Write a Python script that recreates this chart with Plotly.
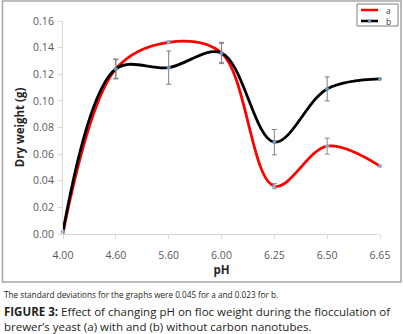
import plotly.graph_objects as go

ph_labels = ["4.00", "4.60", "5.60", "6.00", "6.25", "6.50", "6.65"]
series_names = ["a", "b"]
series_a = [0.001, 0.124, 0.144, 0.136, 0.036, 0.066, 0.051]
series_b = [0.002, 0.124, 0.125, 0.136, 0.069, 0.109, 0.1165]
err_a = [0.003, 0.007, 0.001, 0.007, 0.002, 0.006, 0.0]
err_b = [0.005, 0.0075, 0.0125, 0.008, 0.0095, 0.009, 0.0]
y_ticks = [0.00, 0.02, 0.04, 0.06, 0.08, 0.10, 0.12, 0.14, 0.16]

W, H = 403, 334
L, R, T, B = 63, 23, 21, 100
pw, ph = W - L - R, H - T - B

def px(x):
    return (x - L) / pw

def py(y):
    return (H - B - y) / ph

font = "Open Sans"
colors = ["#ff0000", "#000000"]
fig = go.Figure()
fig.add_trace(go.Scatter(
    x=ph_labels, y=series_a, name=series_names[0], mode="lines+markers",
    line=dict(color=colors[0], width=2.8, shape="spline", smoothing=1),
    marker=dict(color="#8fa9c9", size=4),
    error_y=dict(type="data", array=err_a, color="#8c8c8c", thickness=1, width=2.5),
    cliponaxis=False, showlegend=False,
))
fig.add_trace(go.Scatter(
    x=ph_labels, y=series_b, name=series_names[1], mode="lines+markers",
    line=dict(color=colors[1], width=2.8, shape="spline", smoothing=1),
    marker=dict(color="#6f93c0", size=4),
    error_y=dict(type="data", array=err_b, color="#7f7f7f", thickness=1, width=2.5),
    cliponaxis=False, showlegend=False,
))

# compact legend box (top right), drawn in paper coordinates
shapes = [
    dict(type="rect", xref="paper", yref="paper",
         x0=px(2.5), x1=px(401), y0=py(282), y1=py(1),
         line=dict(color="#a6a6a6", width=1.5), fillcolor="rgba(0,0,0,0)"),
    dict(type="rect", xref="paper", yref="paper",
         x0=px(357), x1=px(398), y0=py(26), y1=py(4),
         line=dict(color="#7f7f7f", width=1), fillcolor="white"),
]
for i, c in enumerate(colors):
    yy = 10 + 11 * i
    shapes.append(dict(type="line", xref="paper", yref="paper",
                       x0=px(361), x1=px(378), y0=py(yy), y1=py(yy),
                       line=dict(color=c, width=2.5)))
    if i == 1:
        shapes.append(dict(type="circle", xref="paper", yref="paper",
                           x0=px(368), x1=px(371), y0=py(yy + 1.5), y1=py(yy - 1.5),
                           line=dict(color="#6f93c0", width=0.5), fillcolor="#6f93c0"))

annotations = [
    dict(text="<br>".join(series_names), xref="paper", yref="paper",
         x=px(384), y=py(16.3), xanchor="left", yanchor="middle", align="left",
         showarrow=False, font=dict(family=font, size=8.5, color="#404040")),
    dict(text="The standard deviations for the graphs were 0.045 for a and 0.023 for b.",
         xref="paper", yref="paper", x=px(2), y=py(294), xanchor="left", yanchor="middle",
         showarrow=False, font=dict(family=font, size=8.2, color="#231f20")),
    dict(text="<b>FIGURE 3:</b> Effect of changing pH on floc weight during the flocculation of"
              "<br>brewer\u2019s yeast (a) with and (b) without carbon nanotubes.",
         xref="paper", yref="paper", x=px(2), y=py(319), xanchor="left", yanchor="middle",
         align="left", showarrow=False,
         font=dict(family=font, size=11.5, color="#231f20")),
]

fig.update_layout(
    width=W, height=H,
    margin=dict(l=L, r=R, t=T, b=B),
    paper_bgcolor="white", plot_bgcolor="white",
    font=dict(family=font, size=10.5, color="#404040"),
    showlegend=False,
    xaxis=dict(
        type="category", range=[0, len(ph_labels) - 1],
        showgrid=False, showline=True, linecolor="#d9d9d9", linewidth=1,
        ticks="outside", ticklen=4, tickcolor="#d9d9d9",
        ticklabelstandoff=7,
        tickfont=dict(size=10.5, color="#595959"),
        title=dict(text="<b>pH</b>", font=dict(size=11.5, color="#262626"), standoff=3),
        zeroline=False,
    ),
    yaxis=dict(
        range=[0, 0.16], tickvals=y_ticks, tickformat=".2f",
        showgrid=False, showline=True, linecolor="#d9d9d9", linewidth=1,
        ticks="outside", ticklen=4, tickcolor="#d9d9d9",
        ticklabelstandoff=2,
        tickfont=dict(size=10.5, color="#595959"),
        title=dict(text="<b>Dry weight (g)</b>", font=dict(size=11.5, color="#262626"), standoff=6),
        zeroline=False,
    ),
    shapes=shapes,
    annotations=annotations,
)

fig.write_html("out.html", config={"displayModeBar": False},
               post_script="document.body.style.margin='0';document.body.style.padding='0';"
                           "document.body.style.overflow='hidden';")
